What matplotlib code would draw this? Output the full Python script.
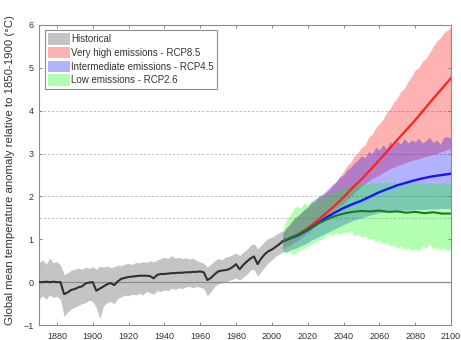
"""
Global mean temperature anomaly: historical simulations and RCP projections.
"""

import matplotlib
matplotlib.use("Agg")
import matplotlib.pyplot as plt
import numpy as np

plt.rcParams["font.family"] = ["Liberation Sans", "DejaVu Sans"]

# === Historical (1870-2006, every 2 years) ===
HIST_YEARS = list(range(1870, 2007, 2))
HIST_MEAN = [0.00, 0.00, 0.01, 0.00, 0.01, 0.00, 0.00, -0.28, -0.24, -0.18,
             -0.16, -0.12, -0.10, -0.03, -0.01, 0.00, -0.20, -0.15, -0.10, -0.05,
             -0.02, -0.07, 0.02, 0.08, 0.10, 0.12, 0.13, 0.14, 0.15, 0.15,
             0.15, 0.14, 0.09, 0.17, 0.19, 0.19, 0.20, 0.21, 0.21, 0.22,
             0.22, 0.23, 0.23, 0.24, 0.24, 0.25, 0.23, 0.05, 0.10, 0.18,
             0.25, 0.27, 0.28, 0.30, 0.35, 0.42, 0.30, 0.40, 0.48, 0.55,
             0.60, 0.42, 0.55, 0.65, 0.72, 0.76, 0.82, 0.88, 0.95]
HIST_UPPER = [0.45, 0.52, 0.42, 0.56, 0.45, 0.48, 0.40, 0.18, 0.22, 0.28,
              0.30, 0.33, 0.30, 0.35, 0.32, 0.36, 0.30, 0.37, 0.35, 0.38,
              0.34, 0.36, 0.40, 0.38, 0.42, 0.44, 0.41, 0.46, 0.45, 0.48,
              0.46, 0.50, 0.47, 0.52, 0.55, 0.58, 0.55, 0.62, 0.56, 0.58,
              0.55, 0.57, 0.54, 0.56, 0.50, 0.47, 0.44, 0.35, 0.42, 0.50,
              0.55, 0.52, 0.58, 0.60, 0.64, 0.68, 0.62, 0.70, 0.76, 0.86,
              0.90, 0.78, 0.86, 0.95, 1.02, 1.05, 1.10, 1.15, 1.20]
HIST_LOWER = [-0.38, -0.32, -0.40, -0.30, -0.36, -0.33, -0.40, -0.80, -0.70, -0.62,
              -0.58, -0.55, -0.50, -0.48, -0.42, -0.45, -0.60, -0.85, -0.55, -0.48,
              -0.45, -0.50, -0.38, -0.34, -0.30, -0.32, -0.28, -0.30, -0.26, -0.30,
              -0.22, -0.25, -0.28, -0.20, -0.22, -0.18, -0.20, -0.14, -0.17, -0.13,
              -0.15, -0.11, -0.10, -0.13, -0.10, -0.12, -0.15, -0.32, -0.22, -0.10,
              -0.04, -0.02, 0.00, 0.04, 0.06, 0.10, 0.05, 0.12, 0.18, 0.28,
              0.30, 0.14, 0.25, 0.35, 0.45, 0.52, 0.60, 0.65, 0.70]

# === Projections: ranges every 2 years, central estimates every 5 years ===
PROJ_YEARS = list(range(2006, 2101, 2))
MEAN_YEARS = [2006] + list(range(2010, 2101, 5))

RCP85_UPPER = [1.15, 1.28, 1.35, 1.48, 1.50, 1.62, 1.68, 1.75, 1.85, 1.88,
               1.98, 2.02, 2.08, 2.15, 2.26, 2.35, 2.48, 2.58, 2.72, 2.80,
               2.95, 3.02, 3.14, 3.20, 3.38, 3.45, 3.60, 3.70, 3.80, 3.95,
               4.05, 4.20, 4.30, 4.45, 4.52, 4.68, 4.80, 4.95, 5.00, 5.15,
               5.22, 5.35, 5.50, 5.62, 5.70, 5.82, 5.88, 5.95]
RCP85_LOWER = [0.78, 0.82, 0.86, 0.92, 0.96, 1.02, 1.08, 1.14, 1.22, 1.30,
               1.38, 1.46, 1.54, 1.60, 1.66, 1.72, 1.78, 1.84, 1.92, 2.00,
               2.08, 2.16, 2.24, 2.30, 2.36, 2.42, 2.46, 2.50, 2.56, 2.60,
               2.65, 2.68, 2.72, 2.75, 2.78, 2.81, 2.84, 2.86, 2.88, 2.91,
               2.93, 2.96, 2.98, 3.00, 3.04, 3.06, 3.10, 3.12]
RCP45_UPPER = [1.15, 1.25, 1.35, 1.45, 1.55, 1.60, 1.70, 1.75, 1.85, 1.92,
               2.00, 2.05, 2.12, 2.20, 2.28, 2.35, 2.45, 2.50, 2.62, 2.68,
               2.78, 2.85, 2.95, 2.90, 3.05, 3.00, 3.15, 3.08, 3.20, 3.12,
               3.28, 3.18, 3.30, 3.22, 3.35, 3.25, 3.32, 3.28, 3.36, 3.25,
               3.30, 3.38, 3.26, 3.32, 3.22, 3.38, 3.40, 3.35]
RCP45_LOWER = [0.72, 0.70, 0.75, 0.78, 0.80, 0.85, 0.88, 0.92, 0.98, 1.02,
               1.06, 1.10, 1.14, 1.18, 1.22, 1.26, 1.30, 1.34, 1.38, 1.42,
               1.45, 1.48, 1.50, 1.53, 1.55, 1.58, 1.60, 1.62, 1.63, 1.64,
               1.65, 1.66, 1.67, 1.67, 1.68, 1.68, 1.69, 1.69, 1.70, 1.70,
               1.70, 1.71, 1.71, 1.71, 1.72, 1.72, 1.72, 1.72]
RCP26_UPPER = [1.20, 1.45, 1.55, 1.70, 1.78, 1.72, 1.85, 1.80, 1.90, 1.95,
               1.92, 2.02, 2.00, 2.10, 2.08, 2.15, 2.18, 2.20, 2.22, 2.26,
               2.24, 2.30, 2.28, 2.32, 2.30, 2.34, 2.30, 2.33, 2.31, 2.35,
               2.32, 2.34, 2.30, 2.33, 2.31, 2.35, 2.32, 2.34, 2.30, 2.33,
               2.31, 2.34, 2.30, 2.32, 2.30, 2.33, 2.30, 2.30]
RCP26_LOWER = [0.70, 0.68, 0.72, 0.65, 0.70, 0.75, 0.78, 0.85, 0.88, 0.92,
               0.98, 1.00, 1.08, 1.12, 1.10, 1.16, 1.12, 1.18, 1.15, 1.20,
               1.10, 1.12, 1.05, 1.08, 1.00, 1.02, 0.95, 0.98, 0.90, 0.92,
               0.85, 0.88, 0.80, 0.84, 0.76, 0.80, 0.74, 0.78, 0.72, 0.85,
               0.80, 0.90, 0.78, 0.82, 0.75, 0.80, 0.72, 0.80]

RCP85_MEAN = [0.95, 1.02, 1.12, 1.26, 1.42, 1.60, 1.78, 1.98, 2.20, 2.40,
              2.62, 2.85, 3.08, 3.32, 3.55, 3.78, 4.03, 4.28, 4.52, 4.76]
RCP45_MEAN = [0.95, 1.02, 1.10, 1.22, 1.35, 1.50, 1.62, 1.73, 1.82, 1.90,
              2.00, 2.10, 2.18, 2.26, 2.32, 2.38, 2.43, 2.47, 2.50, 2.53]
RCP26_MEAN = [0.95, 1.03, 1.12, 1.24, 1.35, 1.45, 1.54, 1.60, 1.64, 1.66,
              1.65, 1.67, 1.64, 1.65, 1.62, 1.64, 1.61, 1.63, 1.60, 1.60]

LABELS = ["Historical", "Very high emissions - RCP8.5",
          "Intermediate emissions - RCP4.5", "Low emissions - RCP2.6"]
GRID_LEVELS = [1.5, 2, 3, 4]
YLABEL = "Global mean temperature anomaly relative to 1850-1900 (\u00b0C)"


def main():
    fig = plt.figure(figsize=(4.61, 3.40), dpi=100)
    ax = fig.add_axes([0.0846, 0.0441, 0.8937, 0.8824])

    # dashed reference levels, behind everything
    for lev in GRID_LEVELS:
        ax.axhline(lev, color="0.72", lw=0.6, ls=(0, (3, 2)), zorder=0)

    # uncertainty ranges
    ax.fill_between(HIST_YEARS, HIST_LOWER, HIST_UPPER, color="#c4c4c4",
                    lw=0, zorder=1, label=LABELS[0])
    ax.fill_between(PROJ_YEARS, RCP85_LOWER, RCP85_UPPER, color="red",
                    alpha=0.3, lw=0, zorder=1, label=LABELS[1])
    ax.fill_between(PROJ_YEARS, RCP45_LOWER, RCP45_UPPER, color="blue",
                    alpha=0.3, lw=0, zorder=1, label=LABELS[2])
    ax.fill_between(PROJ_YEARS, RCP26_LOWER, RCP26_UPPER, color="lime",
                    alpha=0.3, lw=0, zorder=1, label=LABELS[3])

    ax.axhline(0, color="0.55", lw=0.9, zorder=2)

    # central estimates
    ax.plot(HIST_YEARS, HIST_MEAN, color="#303030", lw=1.5, zorder=3)
    ax.plot(MEAN_YEARS, RCP85_MEAN, color="#ff2020", lw=1.6, zorder=3)
    ax.plot(MEAN_YEARS, RCP45_MEAN, color="#1515ff", lw=1.7, zorder=3)
    ax.plot(MEAN_YEARS, RCP26_MEAN, color="#1a7a1a", lw=1.5, zorder=4)

    ax.set_xlim(1870, 2100)
    ax.set_ylim(-1, 6)
    ax.set_xticks(np.arange(1880, 2101, 20))
    ax.set_yticks(np.arange(-1, 7, 1))
    ax.tick_params(direction="in", length=2.5, width=0.6, colors="0.45",
                   labelcolor="#333333", labelsize=6.5, top=True, right=True)
    ax.tick_params(axis="x", pad=5)
    ax.tick_params(axis="y", pad=4)
    for sp in ax.spines.values():
        sp.set_color("0.55")
        sp.set_linewidth(0.8)

    fig.text(10 / 461, 0.5, YLABEL, rotation=90, ha="center", va="center",
             fontsize=8.2, color="#333333")

    leg = ax.legend(loc="upper left", bbox_to_anchor=(0.0146, 0.983),
                    borderaxespad=0, fontsize=7, fancybox=False,
                    handlelength=2.2, handleheight=1.4, handletextpad=0.15,
                    labelspacing=0.25, borderpad=0.35, framealpha=1)
    leg.get_frame().set_edgecolor("0.55")
    leg.get_frame().set_linewidth(0.8)
    for t in leg.get_texts():
        t.set_color("#333333")

    fig.savefig("out.png", dpi=100)
    plt.close(fig)


if __name__ == "__main__":
    main()
